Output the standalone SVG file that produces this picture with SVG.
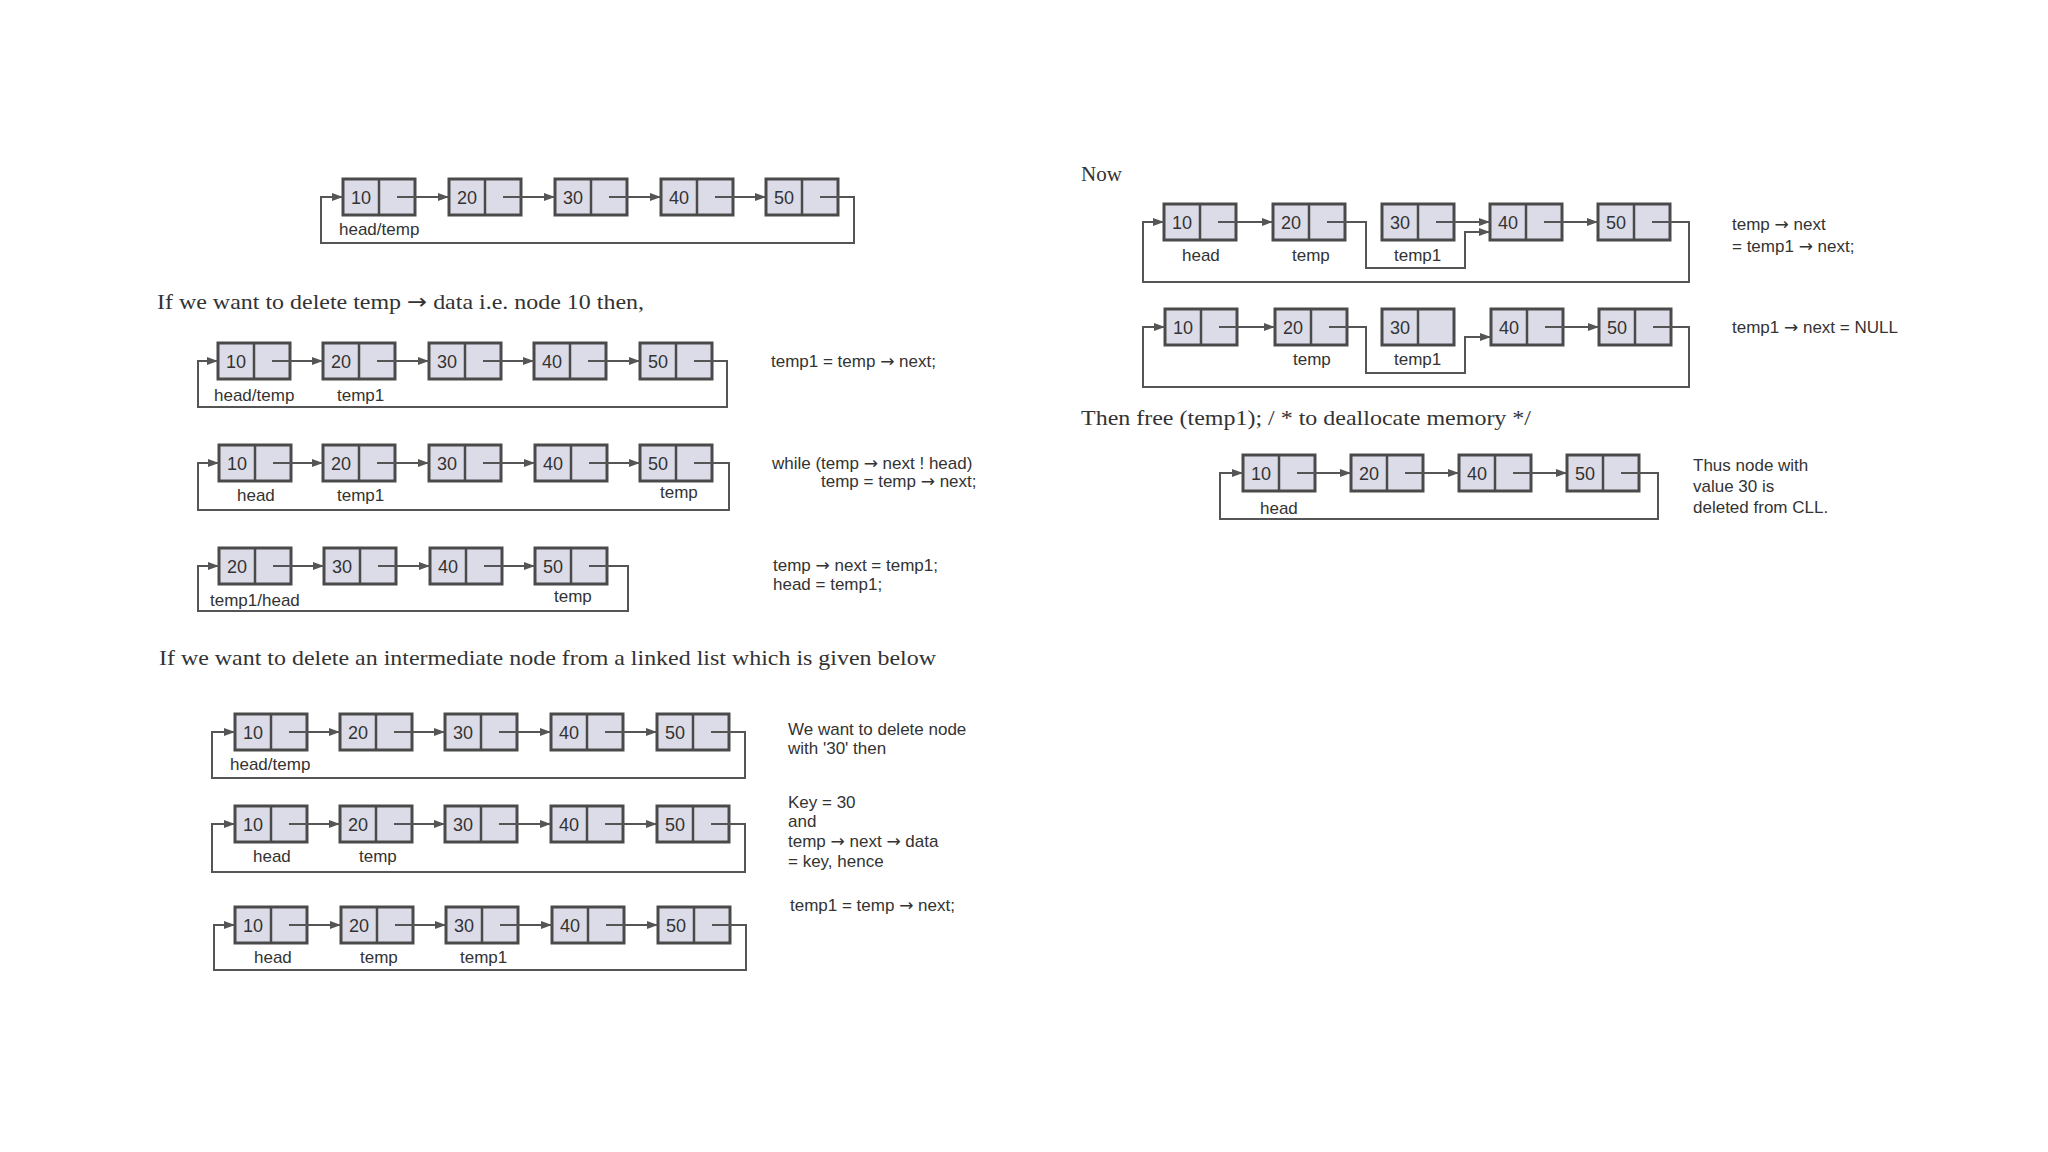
<svg xmlns="http://www.w3.org/2000/svg" width="2048" height="1152" viewBox="0 0 2048 1152">
<defs>
<marker id="ah" markerWidth="12" markerHeight="10" refX="11" refY="5" orient="auto" markerUnits="userSpaceOnUse">
<path d="M0,1 L11,5 L0,9 Z" fill="#555"/>
</marker>
<style>
.box{fill:#dcdce8;stroke:#4a4a4a;stroke-width:3}
.div{stroke:#4a4a4a;stroke-width:2.5}
.num{font-family:"Liberation Sans",Arial,sans-serif;font-size:18px;fill:#333;text-anchor:middle}
.lbl{font-family:"Liberation Sans",Arial,sans-serif;font-size:17px;fill:#333}
.serif{font-family:"Liberation Serif","Times New Roman",serif;font-size:21px;fill:#333}
.ar{font-family:"DejaVu Sans",sans-serif}
.conn{fill:none;stroke:#555;stroke-width:2}
.arr{marker-end:url(#ah)}
</style>
</defs>
<rect width="2048" height="1152" fill="#ffffff"/>

<!-- Diagram 1 -->
<g id="d1">
<g id="d1-n10"><rect class="box" x="343" y="179" width="72" height="36"/><line class="div" x1="379" y1="179" x2="379" y2="215"/><text class="num" x="361" y="204">10</text></g>
<g id="d1-n20"><rect class="box" x="449" y="179" width="72" height="36"/><line class="div" x1="485" y1="179" x2="485" y2="215"/><text class="num" x="467" y="204">20</text></g>
<g id="d1-n30"><rect class="box" x="555" y="179" width="72" height="36"/><line class="div" x1="591" y1="179" x2="591" y2="215"/><text class="num" x="573" y="204">30</text></g>
<g id="d1-n40"><rect class="box" x="661" y="179" width="72" height="36"/><line class="div" x1="697" y1="179" x2="697" y2="215"/><text class="num" x="679" y="204">40</text></g>
<g id="d1-n50"><rect class="box" x="766" y="179" width="72" height="36"/><line class="div" x1="802" y1="179" x2="802" y2="215"/><text class="num" x="784" y="204">50</text></g>
<text class="lbl" x="339" y="235">head/temp</text>
</g>

<!-- Heading 1 -->
<text class="serif" x="157" y="309" textLength="487" lengthAdjust="spacingAndGlyphs">If we want to delete temp <tspan class="ar">→</tspan> data i.e. node 10 then,</text>

<!-- Diagram 2 -->
<g id="d2">
<g id="d2-n10"><rect class="box" x="218" y="343" width="72" height="36"/><line class="div" x1="254" y1="343" x2="254" y2="379"/><text class="num" x="236" y="368">10</text></g>
<g id="d2-n20"><rect class="box" x="323" y="343" width="72" height="36"/><line class="div" x1="359" y1="343" x2="359" y2="379"/><text class="num" x="341" y="368">20</text></g>
<g id="d2-n30"><rect class="box" x="429" y="343" width="72" height="36"/><line class="div" x1="465" y1="343" x2="465" y2="379"/><text class="num" x="447" y="368">30</text></g>
<g id="d2-n40"><rect class="box" x="534" y="343" width="72" height="36"/><line class="div" x1="570" y1="343" x2="570" y2="379"/><text class="num" x="552" y="368">40</text></g>
<g id="d2-n50"><rect class="box" x="640" y="343" width="72" height="36"/><line class="div" x1="676" y1="343" x2="676" y2="379"/><text class="num" x="658" y="368">50</text></g>
<text class="lbl" x="214" y="401">head/temp</text>
<text class="lbl" x="337" y="401">temp1</text>
<text class="lbl" x="771" y="367">temp1 = temp <tspan class="ar">→</tspan> next;</text>
</g>

<!-- Diagram 3 -->
<g id="d3">
<g id="d3-n10"><rect class="box" x="219" y="445" width="72" height="36"/><line class="div" x1="255" y1="445" x2="255" y2="481"/><text class="num" x="237" y="470">10</text></g>
<g id="d3-n20"><rect class="box" x="323" y="445" width="72" height="36"/><line class="div" x1="359" y1="445" x2="359" y2="481"/><text class="num" x="341" y="470">20</text></g>
<g id="d3-n30"><rect class="box" x="429" y="445" width="72" height="36"/><line class="div" x1="465" y1="445" x2="465" y2="481"/><text class="num" x="447" y="470">30</text></g>
<g id="d3-n40"><rect class="box" x="535" y="445" width="72" height="36"/><line class="div" x1="571" y1="445" x2="571" y2="481"/><text class="num" x="553" y="470">40</text></g>
<g id="d3-n50"><rect class="box" x="640" y="445" width="72" height="36"/><line class="div" x1="676" y1="445" x2="676" y2="481"/><text class="num" x="658" y="470">50</text></g>
<text class="lbl" x="237" y="501">head</text>
<text class="lbl" x="337" y="501">temp1</text>
<text class="lbl" x="660" y="498">temp</text>
<text class="lbl" x="772" y="469">while (temp <tspan class="ar">→</tspan> next ! head)</text>
<text class="lbl" x="821" y="487">temp = temp <tspan class="ar">→</tspan> next;</text>
</g>

<!-- Diagram 4 -->
<g id="d4">
<g id="d4-n20"><rect class="box" x="219" y="548" width="72" height="36"/><line class="div" x1="255" y1="548" x2="255" y2="584"/><text class="num" x="237" y="573">20</text></g>
<g id="d4-n30"><rect class="box" x="324" y="548" width="72" height="36"/><line class="div" x1="360" y1="548" x2="360" y2="584"/><text class="num" x="342" y="573">30</text></g>
<g id="d4-n40"><rect class="box" x="430" y="548" width="72" height="36"/><line class="div" x1="466" y1="548" x2="466" y2="584"/><text class="num" x="448" y="573">40</text></g>
<g id="d4-n50"><rect class="box" x="535" y="548" width="72" height="36"/><line class="div" x1="571" y1="548" x2="571" y2="584"/><text class="num" x="553" y="573">50</text></g>
<text class="lbl" x="210" y="606">temp1/head</text>
<text class="lbl" x="554" y="602">temp</text>
<text class="lbl" x="773" y="571">temp <tspan class="ar">→</tspan> next = temp1;</text>
<text class="lbl" x="773" y="590">head = temp1;</text>
</g>

<!-- Heading 2 -->
<text class="serif" x="159" y="665" textLength="777" lengthAdjust="spacingAndGlyphs">If we want to delete an intermediate node from a linked list which is given below</text>

<!-- Diagram 5 -->
<g id="d5">
<g id="d5-n10"><rect class="box" x="235" y="714" width="72" height="36"/><line class="div" x1="271" y1="714" x2="271" y2="750"/><text class="num" x="253" y="739">10</text></g>
<g id="d5-n20"><rect class="box" x="340" y="714" width="72" height="36"/><line class="div" x1="376" y1="714" x2="376" y2="750"/><text class="num" x="358" y="739">20</text></g>
<g id="d5-n30"><rect class="box" x="445" y="714" width="72" height="36"/><line class="div" x1="481" y1="714" x2="481" y2="750"/><text class="num" x="463" y="739">30</text></g>
<g id="d5-n40"><rect class="box" x="551" y="714" width="72" height="36"/><line class="div" x1="587" y1="714" x2="587" y2="750"/><text class="num" x="569" y="739">40</text></g>
<g id="d5-n50"><rect class="box" x="657" y="714" width="72" height="36"/><line class="div" x1="693" y1="714" x2="693" y2="750"/><text class="num" x="675" y="739">50</text></g>
<text class="lbl" x="230" y="770">head/temp</text>
<text class="lbl" x="788" y="735">We want to delete node</text>
<text class="lbl" x="788" y="754">with '30' then</text>
</g>

<!-- Diagram 6 -->
<g id="d6">
<g id="d6-n10"><rect class="box" x="235" y="806" width="72" height="36"/><line class="div" x1="271" y1="806" x2="271" y2="842"/><text class="num" x="253" y="831">10</text></g>
<g id="d6-n20"><rect class="box" x="340" y="806" width="72" height="36"/><line class="div" x1="376" y1="806" x2="376" y2="842"/><text class="num" x="358" y="831">20</text></g>
<g id="d6-n30"><rect class="box" x="445" y="806" width="72" height="36"/><line class="div" x1="481" y1="806" x2="481" y2="842"/><text class="num" x="463" y="831">30</text></g>
<g id="d6-n40"><rect class="box" x="551" y="806" width="72" height="36"/><line class="div" x1="587" y1="806" x2="587" y2="842"/><text class="num" x="569" y="831">40</text></g>
<g id="d6-n50"><rect class="box" x="657" y="806" width="72" height="36"/><line class="div" x1="693" y1="806" x2="693" y2="842"/><text class="num" x="675" y="831">50</text></g>
<text class="lbl" x="253" y="862">head</text>
<text class="lbl" x="359" y="862">temp</text>
<text class="lbl" x="788" y="808">Key = 30</text>
<text class="lbl" x="788" y="827">and</text>
<text class="lbl" x="788" y="847">temp <tspan class="ar">→</tspan> next <tspan class="ar">→</tspan> data</text>
<text class="lbl" x="788" y="867">= key, hence</text>
</g>

<!-- Diagram 7 -->
<g id="d7">
<g id="d7-n10"><rect class="box" x="235" y="907" width="72" height="36"/><line class="div" x1="271" y1="907" x2="271" y2="943"/><text class="num" x="253" y="932">10</text></g>
<g id="d7-n20"><rect class="box" x="341" y="907" width="72" height="36"/><line class="div" x1="377" y1="907" x2="377" y2="943"/><text class="num" x="359" y="932">20</text></g>
<g id="d7-n30"><rect class="box" x="446" y="907" width="72" height="36"/><line class="div" x1="482" y1="907" x2="482" y2="943"/><text class="num" x="464" y="932">30</text></g>
<g id="d7-n40"><rect class="box" x="552" y="907" width="72" height="36"/><line class="div" x1="588" y1="907" x2="588" y2="943"/><text class="num" x="570" y="932">40</text></g>
<g id="d7-n50"><rect class="box" x="658" y="907" width="72" height="36"/><line class="div" x1="694" y1="907" x2="694" y2="943"/><text class="num" x="676" y="932">50</text></g>
<text class="lbl" x="254" y="963">head</text>
<text class="lbl" x="360" y="963">temp</text>
<text class="lbl" x="460" y="963">temp1</text>
<text class="lbl" x="790" y="911">temp1 = temp <tspan class="ar">→</tspan> next;</text>
</g>

<!-- Right column -->
<text class="serif" x="1081" y="181">Now</text>

<!-- Diagram 8 -->
<g id="d8">
<g id="d8-n10"><rect class="box" x="1164" y="204" width="72" height="36"/><line class="div" x1="1200" y1="204" x2="1200" y2="240"/><text class="num" x="1182" y="229">10</text></g>
<g id="d8-n20"><rect class="box" x="1273" y="204" width="72" height="36"/><line class="div" x1="1309" y1="204" x2="1309" y2="240"/><text class="num" x="1291" y="229">20</text></g>
<g id="d8-n30"><rect class="box" x="1382" y="204" width="72" height="36"/><line class="div" x1="1418" y1="204" x2="1418" y2="240"/><text class="num" x="1400" y="229">30</text></g>
<g id="d8-n40"><rect class="box" x="1490" y="204" width="72" height="36"/><line class="div" x1="1526" y1="204" x2="1526" y2="240"/><text class="num" x="1508" y="229">40</text></g>
<g id="d8-n50"><rect class="box" x="1598" y="204" width="72" height="36"/><line class="div" x1="1634" y1="204" x2="1634" y2="240"/><text class="num" x="1616" y="229">50</text></g>
<text class="lbl" x="1182" y="261">head</text>
<text class="lbl" x="1292" y="261">temp</text>
<text class="lbl" x="1394" y="261">temp1</text>
<text class="lbl" x="1732" y="230">temp <tspan class="ar">→</tspan> next</text>
<text class="lbl" x="1732" y="252">= temp1 <tspan class="ar">→</tspan> next;</text>
</g>

<!-- Diagram 9 -->
<g id="d9">
<g id="d9-n10"><rect class="box" x="1165" y="309" width="72" height="36"/><line class="div" x1="1201" y1="309" x2="1201" y2="345"/><text class="num" x="1183" y="334">10</text></g>
<g id="d9-n20"><rect class="box" x="1275" y="309" width="72" height="36"/><line class="div" x1="1311" y1="309" x2="1311" y2="345"/><text class="num" x="1293" y="334">20</text></g>
<g id="d9-n30"><rect class="box" x="1382" y="309" width="72" height="36"/><line class="div" x1="1418" y1="309" x2="1418" y2="345"/><text class="num" x="1400" y="334">30</text></g>
<g id="d9-n40"><rect class="box" x="1491" y="309" width="72" height="36"/><line class="div" x1="1527" y1="309" x2="1527" y2="345"/><text class="num" x="1509" y="334">40</text></g>
<g id="d9-n50"><rect class="box" x="1599" y="309" width="72" height="36"/><line class="div" x1="1635" y1="309" x2="1635" y2="345"/><text class="num" x="1617" y="334">50</text></g>
<text class="lbl" x="1293" y="365">temp</text>
<text class="lbl" x="1394" y="365">temp1</text>
<text class="lbl" x="1732" y="333">temp1 <tspan class="ar">→</tspan> next = NULL</text>
</g>

<text class="serif" x="1081" y="425" textLength="450" lengthAdjust="spacingAndGlyphs">Then free (temp1); / * to deallocate memory */</text>

<!-- Diagram 10 -->
<g id="d10">
<g id="d10-n10"><rect class="box" x="1243" y="455" width="72" height="36"/><line class="div" x1="1279" y1="455" x2="1279" y2="491"/><text class="num" x="1261" y="480">10</text></g>
<g id="d10-n20"><rect class="box" x="1351" y="455" width="72" height="36"/><line class="div" x1="1387" y1="455" x2="1387" y2="491"/><text class="num" x="1369" y="480">20</text></g>
<g id="d10-n40"><rect class="box" x="1459" y="455" width="72" height="36"/><line class="div" x1="1495" y1="455" x2="1495" y2="491"/><text class="num" x="1477" y="480">40</text></g>
<g id="d10-n50"><rect class="box" x="1567" y="455" width="72" height="36"/><line class="div" x1="1603" y1="455" x2="1603" y2="491"/><text class="num" x="1585" y="480">50</text></g>
<text class="lbl" x="1260" y="514">head</text>
<text class="lbl" x="1693" y="471">Thus node with</text>
<text class="lbl" x="1693" y="492">value 30 is</text>
<text class="lbl" x="1693" y="513">deleted from CLL.</text>
</g>

<!-- Connectors -->
<g id="connectors">
<path class="conn arr" d="M397,197 H449"/>
<path class="conn arr" d="M503,197 H555"/>
<path class="conn arr" d="M609,197 H661"/>
<path class="conn arr" d="M715,197 H766"/>
<path class="conn arr" d="M820,197 H854 V243 H321 V197 H343"/>

<path class="conn arr" d="M272,361 H323"/>
<path class="conn arr" d="M377,361 H429"/>
<path class="conn arr" d="M483,361 H534"/>
<path class="conn arr" d="M588,361 H640"/>
<path class="conn arr" d="M694,361 H727 V407 H198 V361 H218"/>

<path class="conn arr" d="M273,463 H323"/>
<path class="conn arr" d="M377,463 H429"/>
<path class="conn arr" d="M483,463 H535"/>
<path class="conn arr" d="M589,463 H640"/>
<path class="conn arr" d="M694,463 H729 V510 H198 V463 H219"/>

<path class="conn arr" d="M273,566 H324"/>
<path class="conn arr" d="M378,566 H430"/>
<path class="conn arr" d="M484,566 H535"/>
<path class="conn arr" d="M589,566 H628 V611 H198 V566 H219"/>

<path class="conn arr" d="M289,732 H340"/>
<path class="conn arr" d="M394,732 H445"/>
<path class="conn arr" d="M499,732 H551"/>
<path class="conn arr" d="M605,732 H657"/>
<path class="conn arr" d="M711,732 H745 V778 H212 V732 H235"/>

<path class="conn arr" d="M289,824 H340"/>
<path class="conn arr" d="M394,824 H445"/>
<path class="conn arr" d="M499,824 H551"/>
<path class="conn arr" d="M605,824 H657"/>
<path class="conn arr" d="M711,824 H745 V872 H212 V824 H235"/>

<path class="conn arr" d="M289,925 H341"/>
<path class="conn arr" d="M395,925 H446"/>
<path class="conn arr" d="M500,925 H552"/>
<path class="conn arr" d="M606,925 H658"/>
<path class="conn arr" d="M712,925 H746 V970 H214 V925 H235"/>

<path class="conn arr" d="M1218,222 H1273"/>
<path class="conn arr" d="M1327,222 H1366 V268 H1465 V232 H1490"/>
<path class="conn arr" d="M1436,222 H1490"/>
<path class="conn arr" d="M1544,222 H1598"/>
<path class="conn arr" d="M1652,222 H1689 V282 H1143 V222 H1164"/>

<path class="conn arr" d="M1219,327 H1275"/>
<path class="conn arr" d="M1329,327 H1366 V373 H1465 V337 H1491"/>
<path class="conn arr" d="M1545,327 H1599"/>
<path class="conn arr" d="M1653,327 H1689 V387 H1143 V327 H1165"/>

<path class="conn arr" d="M1297,473 H1351"/>
<path class="conn arr" d="M1405,473 H1459"/>
<path class="conn arr" d="M1513,473 H1567"/>
<path class="conn arr" d="M1621,473 H1658 V519 H1220 V473 H1243"/>
</g>
</svg>
